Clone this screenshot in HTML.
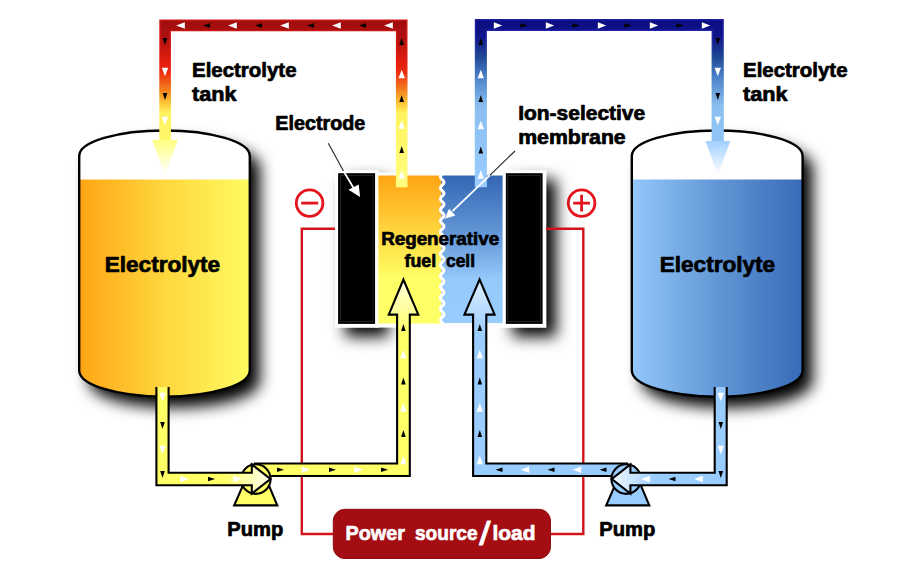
<!DOCTYPE html>
<html lang="en">
<head>
<meta charset="utf-8">
<title>Regenerative fuel cell</title>
<style>
html,body{margin:0;padding:0;background:#fff;}
body{width:900px;height:580px;overflow:hidden;}
svg{display:block;}
text{font-family:"Liberation Sans",sans-serif;font-weight:bold;fill:#000;stroke:#000;stroke-width:0.7px;stroke-linejoin:round;}
</style>
</head>
<body>
<svg width="900" height="580" viewBox="0 0 900 580">
<defs>
  <linearGradient id="gYellowTank" x1="0" y1="0" x2="1" y2="0">
    <stop offset="0" stop-color="#ffa011"/>
    <stop offset="0.5" stop-color="#ffd73e"/>
    <stop offset="1" stop-color="#ffff66"/>
  </linearGradient>
  <linearGradient id="gBlueTank" x1="0" y1="0" x2="1" y2="0">
    <stop offset="0" stop-color="#99ccff"/>
    <stop offset="0.5" stop-color="#6297d6"/>
    <stop offset="1" stop-color="#3366b3"/>
  </linearGradient>
  <linearGradient id="gRedPipe" gradientUnits="userSpaceOnUse" x1="0" y1="20" x2="0" y2="186">
    <stop offset="0" stop-color="#9f0d0d"/>
    <stop offset="0.12" stop-color="#b21110"/>
    <stop offset="0.25" stop-color="#e31d0f"/>
    <stop offset="0.31" stop-color="#ea2a10"/>
    <stop offset="0.42" stop-color="#f57f1c"/>
    <stop offset="0.5" stop-color="#fdc535"/>
    <stop offset="0.56" stop-color="#fff35e"/>
    <stop offset="1" stop-color="#ffff80"/>
  </linearGradient>
  <linearGradient id="gBluePipe" gradientUnits="userSpaceOnUse" x1="0" y1="20" x2="0" y2="186">
    <stop offset="0" stop-color="#0c0c80"/>
    <stop offset="0.1" stop-color="#10148a"/>
    <stop offset="0.22" stop-color="#1f4692"/>
    <stop offset="0.34" stop-color="#4a80c8"/>
    <stop offset="0.52" stop-color="#8bbff0"/>
    <stop offset="1" stop-color="#99ccff"/>
  </linearGradient>
  <linearGradient id="gRedEdge" gradientUnits="userSpaceOnUse" x1="0" y1="20" x2="0" y2="186">
    <stop offset="0" stop-color="#c81414"/>
    <stop offset="0.12" stop-color="#cf1712"/>
    <stop offset="0.25" stop-color="#e31d0f"/>
    <stop offset="0.31" stop-color="#ea2a10"/>
    <stop offset="0.42" stop-color="#f57f1c"/>
    <stop offset="0.5" stop-color="#fdc535"/>
    <stop offset="0.56" stop-color="#fff35e"/>
    <stop offset="1" stop-color="#ffff80"/>
  </linearGradient>
  <linearGradient id="gBlueEdge" gradientUnits="userSpaceOnUse" x1="0" y1="20" x2="0" y2="186">
    <stop offset="0" stop-color="#1d1da2"/>
    <stop offset="0.1" stop-color="#1f25a2"/>
    <stop offset="0.22" stop-color="#234c9c"/>
    <stop offset="0.34" stop-color="#4a80c8"/>
    <stop offset="0.52" stop-color="#8bbff0"/>
    <stop offset="1" stop-color="#99ccff"/>
  </linearGradient>
  <linearGradient id="gYellowHead" gradientUnits="userSpaceOnUse" x1="0" y1="138" x2="0" y2="175">
    <stop offset="0" stop-color="#ffff7a"/>
    <stop offset="1" stop-color="#ffffff"/>
  </linearGradient>
  <linearGradient id="gBlueHead" gradientUnits="userSpaceOnUse" x1="0" y1="138" x2="0" y2="175">
    <stop offset="0" stop-color="#99ccff"/>
    <stop offset="1" stop-color="#ffffff"/>
  </linearGradient>
  <linearGradient id="gCellY" x1="0" y1="0" x2="0" y2="1">
    <stop offset="0" stop-color="#ffa414"/>
    <stop offset="0.45" stop-color="#ffdf47"/>
    <stop offset="0.7" stop-color="#ffff66"/>
    <stop offset="1" stop-color="#ffff66"/>
  </linearGradient>
  <linearGradient id="gCellB" x1="0" y1="0" x2="0" y2="1">
    <stop offset="0" stop-color="#3467b4"/>
    <stop offset="0.45" stop-color="#6a9edb"/>
    <stop offset="0.7" stop-color="#95c8fb"/>
    <stop offset="1" stop-color="#99ccff"/>
  </linearGradient>
  <linearGradient id="gBigY" gradientUnits="userSpaceOnUse" x1="0" y1="280" x2="0" y2="335">
    <stop offset="0" stop-color="#ffffdc"/>
    <stop offset="1" stop-color="#ffff66"/>
  </linearGradient>
  <linearGradient id="gBigB" gradientUnits="userSpaceOnUse" x1="0" y1="280" x2="0" y2="335">
    <stop offset="0" stop-color="#deefff"/>
    <stop offset="1" stop-color="#99ccff"/>
  </linearGradient>
  <linearGradient id="gPumpY" gradientUnits="userSpaceOnUse" x1="225" y1="0" x2="270" y2="0">
    <stop offset="0" stop-color="#ffff66"/>
    <stop offset="1" stop-color="#fffff2"/>
  </linearGradient>
  <linearGradient id="gPumpB" gradientUnits="userSpaceOnUse" x1="657" y1="0" x2="612" y2="0">
    <stop offset="0" stop-color="#99ccff"/>
    <stop offset="1" stop-color="#f2f8ff"/>
  </linearGradient>
  <filter id="sh" x="-20%" y="-20%" width="150%" height="150%">
    <feGaussianBlur in="SourceAlpha" stdDeviation="7.5"/>
    <feOffset dx="9.5" dy="11"/>
    <feMerge><feMergeNode/><feMergeNode in="SourceGraphic"/></feMerge>
  </filter>
  <filter id="sh2" x="-60%" y="-20%" width="250%" height="150%">
    <feGaussianBlur in="SourceAlpha" stdDeviation="7.5"/>
    <feOffset dx="10" dy="8.5"/>
    <feMerge><feMergeNode/><feMergeNode in="SourceGraphic"/></feMerge>
  </filter>
  <clipPath id="clipL"><path d="M79.2,155.9 A85.3,25.4 0 0 1 249.8,155.9 L249.8,370.4 A85.3,26.2 0 0 1 79.2,370.4 Z"/></clipPath>
  <clipPath id="clipR"><path d="M631.8,155.9 A85.4,25.4 0 0 1 802.6,155.9 L802.6,370.4 A85.4,26.2 0 0 1 631.8,370.4 Z"/></clipPath>
</defs>

<rect width="900" height="580" fill="#ffffff"/>

<!-- minus / plus -->
<g fill="none" stroke="#e1151b" stroke-width="2.8">
  <circle cx="309.6" cy="203.1" r="13.3"/>
  <path d="M301.2,203.1 H318.2"/>
  <circle cx="581.6" cy="203.1" r="13.3"/>
  <path d="M573.2,203.1 H590 M581.6,194.7 V211.5"/>
</g>

<!-- tanks -->
<g filter="url(#sh)">
  <path d="M79.2,155.9 A85.3,25.4 0 0 1 249.8,155.9 L249.8,370.4 A85.3,26.2 0 0 1 79.2,370.4 Z" fill="#ffffff"/>
  <path d="M631.8,155.9 A85.4,25.4 0 0 1 802.6,155.9 L802.6,370.4 A85.4,26.2 0 0 1 631.8,370.4 Z" fill="#ffffff"/>
</g>
<rect x="70" y="179.5" width="190" height="225" fill="url(#gYellowTank)" clip-path="url(#clipL)"/>
<rect x="622" y="179.5" width="190" height="225" fill="url(#gBlueTank)" clip-path="url(#clipR)"/>
<path d="M79.2,155.9 A85.3,25.4 0 0 1 249.8,155.9 L249.8,370.4 A85.3,26.2 0 0 1 79.2,370.4 Z" fill="none" stroke="#000" stroke-width="2.4"/>
<path d="M631.8,155.9 A85.4,25.4 0 0 1 802.6,155.9 L802.6,370.4 A85.4,26.2 0 0 1 631.8,370.4 Z" fill="none" stroke="#000" stroke-width="2.4"/>

<!-- electrodes -->
<g filter="url(#sh2)">
  <rect x="335.3" y="170.4" width="43.2" height="157.2" fill="#ffffff"/>
  <rect x="502.5" y="170.4" width="43.6" height="157.2" fill="#ffffff"/>
</g>
<rect x="338.1" y="173.2" width="37.1" height="150.7" fill="#000"/>
<rect x="340.4" y="175.5" width="32.5" height="146.1" fill="none" stroke="#262626" stroke-width="0.9"/>
<rect x="505.3" y="173.2" width="37.3" height="150.7" fill="#000"/>
<rect x="507.6" y="175.5" width="32.7" height="146.1" fill="none" stroke="#262626" stroke-width="0.9"/>

<!-- red wires -->
<g fill="none" stroke="#d2141a" stroke-width="2.4" stroke-linejoin="miter">
  <path d="M335,228.8 L301.8,228.8 L301.8,534 L334,534"/>
  <path d="M546,228.8 L583.3,228.8 L583.3,534 L549,534"/>
</g>

<!-- cell -->
<rect x="375.3" y="172.5" width="130.5" height="155.1" fill="#ffffff"/>
<rect x="378.4" y="175.5" width="62.8" height="148" fill="url(#gCellY)"/>
<rect x="441.2" y="175.5" width="61.4" height="147.6" fill="url(#gCellB)"/>
<path d="M441.84,174.5 L441.02,175.4 L440.50,176.3 L440.43,177.2 L440.81,178.1 L441.55,179.0 L442.46,179.9 L443.30,180.8 L443.86,181.7 L443.99,182.6 L443.66,183.5 L442.95,184.4 L442.05,185.3 L441.18,186.2 L440.58,187.1 L440.40,188.0 L440.69,188.9 L441.36,189.8 L442.25,190.7 L443.13,191.6 L443.77,192.5 L444.00,193.4 L443.77,194.3 L443.13,195.2 L442.25,196.1 L441.36,197.0 L440.69,197.9 L440.40,198.8 L440.58,199.7 L441.18,200.6 L442.05,201.5 L442.95,202.4 L443.66,203.3 L443.99,204.2 L443.86,205.1 L443.30,206.0 L442.46,206.9 L441.55,207.8 L440.81,208.7 L440.43,209.6 L440.50,210.5 L441.02,211.4 L441.84,212.3 L442.76,213.2 L443.53,214.1 L443.95,215.0 L443.93,215.9 L443.45,216.8 L442.66,217.7 L441.74,218.6 L440.95,219.5 L440.47,220.4 L440.45,221.3 L440.87,222.2 L441.64,223.1 L442.56,224.0 L443.38,224.9 L443.90,225.8 L443.97,226.7 L443.59,227.6 L442.85,228.5 L441.94,229.4 L441.10,230.3 L440.54,231.2 L440.41,232.1 L440.74,233.0 L441.45,233.9 L442.35,234.8 L443.22,235.7 L443.82,236.6 L444.00,237.5 L443.71,238.4 L443.04,239.3 L442.15,240.2 L441.27,241.1 L440.63,242.0 L440.40,242.9 L440.63,243.8 L441.27,244.7 L442.15,245.6 L443.04,246.5 L443.71,247.4 L444.00,248.3 L443.82,249.2 L443.22,250.1 L442.35,251.0 L441.45,251.9 L440.74,252.8 L440.41,253.7 L440.54,254.6 L441.10,255.5 L441.94,256.4 L442.85,257.3 L443.59,258.2 L443.97,259.1 L443.90,260.0 L443.38,260.9 L442.56,261.8 L441.64,262.7 L440.87,263.6 L440.45,264.5 L440.47,265.4 L440.95,266.3 L441.74,267.2 L442.66,268.1 L443.45,269.0 L443.93,269.9 L443.95,270.8 L443.53,271.7 L442.76,272.6 L441.84,273.5 L441.02,274.4 L440.50,275.3 L440.43,276.2 L440.81,277.1 L441.55,278.0 L442.46,278.9 L443.30,279.8 L443.86,280.7 L443.99,281.6 L443.66,282.5 L442.95,283.4 L442.05,284.3 L441.18,285.2 L440.58,286.1 L440.40,287.0 L440.69,287.9 L441.36,288.8 L442.25,289.7 L443.13,290.6 L443.77,291.5 L444.00,292.4 L443.77,293.3 L443.13,294.2 L442.25,295.1 L441.36,296.0 L440.69,296.9 L440.40,297.8 L440.58,298.7 L441.18,299.6 L442.05,300.5 L442.95,301.4 L443.66,302.3 L443.99,303.2 L443.86,304.1 L443.30,305.0 L442.46,305.9 L441.55,306.8 L440.81,307.7 L440.43,308.6 L440.50,309.5 L441.02,310.4 L441.84,311.3 L442.76,312.2 L443.53,313.1 L443.95,314.0 L443.93,314.9 L443.45,315.8 L442.66,316.7 L441.74,317.6 L440.95,318.5 L440.47,319.4 L440.45,320.3 L440.87,321.2 L441.64,322.1 L442.56,323.0 L443.38,323.9" fill="none" stroke="#ffffff" stroke-width="3" stroke-linejoin="round"/>

<!-- top red pipe -->
<path d="M160,140.7 L160,20.2 L406.8,20.2 L406.8,186.5 L396.6,186.5 L396.6,30.6 L170.2,30.6 L170.2,140.7 Z" fill="url(#gRedPipe)" stroke="url(#gRedEdge)" stroke-width="1.4"/>
<path d="M152.2,140 L177.8,140 L165,175 Z" fill="url(#gYellowHead)"/>
<!-- top blue pipe -->
<path d="M475.5,186.5 L475.5,19.8 L723.1,19.8 L723.1,141.7 L712.3,141.7 L712.3,30.2 L486.2,30.2 L486.2,186.5 Z" fill="url(#gBluePipe)" stroke="url(#gBlueEdge)" stroke-width="1.4"/>
<path d="M705.5,141 L730.3,141 L717.9,175 Z" fill="url(#gBlueHead)"/>

<!-- bottom yellow pipes -->
<g stroke="#000" stroke-width="2.1" stroke-linejoin="miter">
  <path d="M254,463.5 L397.1,463.5 L397.1,314.6 L388.8,314.6 L403.4,279.5 L418.3,314.6 L409.8,314.6 L409.8,476 L262,476" fill="url(#gBigY)"/>
  <path d="M243.5,484 L268.3,484 L277.3,505.4 L234.2,505.4 Z" fill="#ffff66"/>
  <circle cx="255.8" cy="479.1" r="14.8" fill="#ffff66"/>
  <path d="M156.4,387 L156.4,485.2 L251.8,485.2 L251.8,493.6 L270.4,479 L251.8,464.4 L251.8,472.7 L168.6,472.7 L168.6,387" fill="url(#gPumpY)"/>
</g>
<!-- bottom blue pipes -->
<g stroke="#000" stroke-width="2.1" stroke-linejoin="miter">
  <path d="M628,463.5 L486.3,463.5 L486.3,314.6 L494.6,314.6 L479.6,279.5 L464.4,314.6 L473.1,314.6 L473.1,476 L620,476" fill="url(#gBigB)"/>
  <path d="M615.5,484 L640.3,484 L649.3,505.4 L606.2,505.4 Z" fill="#99ccff"/>
  <circle cx="626.2" cy="479.1" r="14.8" fill="#99ccff"/>
  <path d="M726.7,387 L726.7,485.2 L630.4,485.2 L630.4,493.6 L611.8,479 L630.4,464.4 L630.4,472.7 L714.7,472.7 L714.7,387" fill="url(#gPumpB)"/>
</g>

<polygon points="184.8,22.3 184.8,28.7 176.2,25.5" fill="#ffffff"/>
<polygon points="210.0,23.2 210.0,27.8 203.0,25.5" fill="#000000"/>
<polygon points="236.8,22.3 236.8,28.7 228.2,25.5" fill="#ffffff"/>
<polygon points="262.0,23.2 262.0,27.8 255.0,25.5" fill="#000000"/>
<polygon points="288.8,22.3 288.8,28.7 280.2,25.5" fill="#ffffff"/>
<polygon points="314.0,23.2 314.0,27.8 307.0,25.5" fill="#000000"/>
<polygon points="340.8,22.3 340.8,28.7 332.2,25.5" fill="#ffffff"/>
<polygon points="366.0,23.2 366.0,27.8 359.0,25.5" fill="#000000"/>
<polygon points="392.8,22.3 392.8,28.7 384.2,25.5" fill="#ffffff"/>
<polygon points="162.7,38.0 167.3,38.0 165.0,45.0" fill="#000000"/>
<polygon points="161.8,67.8 168.2,67.8 165.0,76.2" fill="#ffffff"/>
<polygon points="162.7,93.0 167.3,93.0 165.0,100.0" fill="#000000"/>
<polygon points="161.8,116.8 168.2,116.8 165.0,125.2" fill="#ffffff"/>
<polygon points="399.4,45.0 404.0,45.0 401.7,38.0" fill="#000000"/>
<polygon points="398.5,78.2 404.9,78.2 401.7,69.8" fill="#ffffff"/>
<polygon points="399.4,102.0 404.0,102.0 401.7,95.0" fill="#000000"/>
<polygon points="398.5,128.8 404.9,128.8 401.7,120.2" fill="#ffffff"/>
<polygon points="399.4,153.0 404.0,153.0 401.7,146.0" fill="#000000"/>
<polygon points="398.5,178.8 404.9,178.8 401.7,170.2" fill="#ffffff"/>
<polygon points="493.8,22.3 493.8,28.7 502.2,25.5" fill="#ffffff"/>
<polygon points="520.5,23.2 520.5,27.8 527.5,25.5" fill="#000000"/>
<polygon points="545.8,22.3 545.8,28.7 554.2,25.5" fill="#ffffff"/>
<polygon points="572.5,23.2 572.5,27.8 579.5,25.5" fill="#000000"/>
<polygon points="597.8,22.3 597.8,28.7 606.2,25.5" fill="#ffffff"/>
<polygon points="624.5,23.2 624.5,27.8 631.5,25.5" fill="#000000"/>
<polygon points="649.8,22.3 649.8,28.7 658.2,25.5" fill="#ffffff"/>
<polygon points="676.5,23.2 676.5,27.8 683.5,25.5" fill="#000000"/>
<polygon points="701.8,22.3 701.8,28.7 710.2,25.5" fill="#ffffff"/>
<polygon points="478.5,45.0 483.1,45.0 480.8,38.0" fill="#000000"/>
<polygon points="477.6,78.2 484.0,78.2 480.8,69.8" fill="#ffffff"/>
<polygon points="478.5,102.0 483.1,102.0 480.8,95.0" fill="#000000"/>
<polygon points="477.6,129.2 484.0,129.2 480.8,120.8" fill="#ffffff"/>
<polygon points="478.5,153.5 483.1,153.5 480.8,146.5" fill="#000000"/>
<polygon points="477.6,178.8 484.0,178.8 480.8,170.2" fill="#ffffff"/>
<polygon points="715.5,38.0 720.1,38.0 717.8,45.0" fill="#000000"/>
<polygon points="714.6,67.8 721.0,67.8 717.8,76.2" fill="#ffffff"/>
<polygon points="715.5,93.0 720.1,93.0 717.8,100.0" fill="#000000"/>
<polygon points="714.6,116.8 721.0,116.8 717.8,125.2" fill="#ffffff"/>
<polygon points="159.3,392.8 165.7,392.8 162.5,401.2" fill="#ffffff"/>
<polygon points="160.2,422.0 164.8,422.0 162.5,429.0" fill="#000000"/>
<polygon points="159.3,445.8 165.7,445.8 162.5,454.2" fill="#ffffff"/>
<polygon points="160.2,471.0 164.8,471.0 162.5,478.0" fill="#000000"/>
<polygon points="180.2,475.8 180.2,482.2 188.8,479.0" fill="#ffffff"/>
<polygon points="208.0,476.7 208.0,481.3 215.0,479.0" fill="#000000"/>
<polygon points="233.2,475.8 233.2,482.2 241.8,479.0" fill="#ffffff"/>
<polygon points="277.0,467.5 277.0,472.1 284.0,469.8" fill="#000000"/>
<polygon points="301.8,466.6 301.8,473.0 310.2,469.8" fill="#ffffff"/>
<polygon points="329.0,467.5 329.0,472.1 336.0,469.8" fill="#000000"/>
<polygon points="354.2,466.6 354.2,473.0 362.8,469.8" fill="#ffffff"/>
<polygon points="381.0,467.5 381.0,472.1 388.0,469.8" fill="#000000"/>
<polygon points="400.2,464.2 406.6,464.2 403.4,455.8" fill="#ffffff"/>
<polygon points="401.1,437.0 405.7,437.0 403.4,430.0" fill="#000000"/>
<polygon points="400.2,411.8 406.6,411.8 403.4,403.2" fill="#ffffff"/>
<polygon points="401.1,384.5 405.7,384.5 403.4,377.5" fill="#000000"/>
<polygon points="400.2,358.2 406.6,358.2 403.4,349.8" fill="#ffffff"/>
<polygon points="401.1,331.0 405.7,331.0 403.4,324.0" fill="#000000"/>
<polygon points="717.6,392.8 724.0,392.8 720.8,401.2" fill="#ffffff"/>
<polygon points="718.5,422.0 723.1,422.0 720.8,429.0" fill="#000000"/>
<polygon points="717.6,445.8 724.0,445.8 720.8,454.2" fill="#ffffff"/>
<polygon points="718.5,471.0 723.1,471.0 720.8,478.0" fill="#000000"/>
<polygon points="702.8,475.8 702.8,482.2 694.2,479.0" fill="#ffffff"/>
<polygon points="675.5,476.7 675.5,481.3 668.5,479.0" fill="#000000"/>
<polygon points="649.8,475.8 649.8,482.2 641.2,479.0" fill="#ffffff"/>
<polygon points="606.5,467.5 606.5,472.1 599.5,469.8" fill="#000000"/>
<polygon points="581.2,466.6 581.2,473.0 572.8,469.8" fill="#ffffff"/>
<polygon points="554.5,467.5 554.5,472.1 547.5,469.8" fill="#000000"/>
<polygon points="529.2,466.6 529.2,473.0 520.8,469.8" fill="#ffffff"/>
<polygon points="502.5,467.5 502.5,472.1 495.5,469.8" fill="#000000"/>
<polygon points="476.6,464.2 483.0,464.2 479.8,455.8" fill="#ffffff"/>
<polygon points="477.5,437.0 482.1,437.0 479.8,430.0" fill="#000000"/>
<polygon points="476.6,411.8 483.0,411.8 479.8,403.2" fill="#ffffff"/>
<polygon points="477.5,384.5 482.1,384.5 479.8,377.5" fill="#000000"/>
<polygon points="476.6,358.2 483.0,358.2 479.8,349.8" fill="#ffffff"/>
<polygon points="477.5,331.0 482.1,331.0 479.8,324.0" fill="#000000"/>

<!-- power box -->
<rect x="333.3" y="509.3" width="217.2" height="49.2" rx="11.5" ry="11.5" fill="#a40d12" stroke="#8f0b0f" stroke-width="1"/>
<g font-size="20.5" style="fill:#fff;stroke:#fff">
<text x="345.5" y="539.7" style="fill:#fff;stroke:#fff" textLength="59.5" lengthAdjust="spacingAndGlyphs">Power</text>
<text x="415" y="539.7" style="fill:#fff;stroke:#fff" textLength="62.5" lengthAdjust="spacingAndGlyphs">source</text>
<text x="479.3" y="544.6" font-size="34" style="fill:#fff;stroke:#fff;stroke-width:0.9px;font-weight:normal" textLength="11.3" lengthAdjust="spacingAndGlyphs">/</text>
<text x="492.5" y="539.7" style="fill:#fff;stroke:#fff" textLength="43" lengthAdjust="spacingAndGlyphs">load</text>
</g>

<!-- label pointers -->
<path d="M328.3,143.2 L343.6,171.2" stroke="#222" stroke-width="1.1" fill="none"/>
<path d="M343.6,171.2 L354.5,189.5" stroke="#fff" stroke-width="1.7" fill="none"/>
<path d="M360.1,196.9 L348.5,189.7 L358.7,184.6 Z" fill="#fff"/>
<path d="M515,151 L489.8,175.3" stroke="#222" stroke-width="1.1" fill="none"/>
<path d="M489.8,175.3 L452.5,211.2" stroke="#fff" stroke-width="1.8" fill="none"/>
<path d="M444.8,218.8 L449,208.8 L455.4,215.6 Z" fill="#fff"/>

<!-- labels -->
<text x="192" y="76.5" font-size="19.4" textLength="104.5" lengthAdjust="spacingAndGlyphs">Electrolyte</text>
<text x="192" y="100.5" font-size="19.4" textLength="44.5" lengthAdjust="spacingAndGlyphs">tank</text>
<text x="743" y="76.5" font-size="19.4" textLength="104.5" lengthAdjust="spacingAndGlyphs">Electrolyte</text>
<text x="743" y="100.5" font-size="19.4" textLength="44.5" lengthAdjust="spacingAndGlyphs">tank</text>
<text x="275.3" y="129.6" font-size="19.4" textLength="90" lengthAdjust="spacingAndGlyphs">Electrode</text>
<text x="518.2" y="120.3" font-size="19.4" textLength="127" lengthAdjust="spacingAndGlyphs">Ion-selective</text>
<text x="518.2" y="143.8" font-size="19.4" textLength="107.5" lengthAdjust="spacingAndGlyphs">membrane</text>
<text x="381.2" y="244.8" font-size="18" textLength="118" lengthAdjust="spacingAndGlyphs">Regenerative</text>
<text x="404.5" y="266.6" font-size="18" textLength="31.6" lengthAdjust="spacingAndGlyphs">fuel</text>
<text x="446" y="266.6" font-size="18" textLength="29" lengthAdjust="spacingAndGlyphs">cell</text>
<text x="104.7" y="271.8" font-size="21.5" textLength="115.5" lengthAdjust="spacingAndGlyphs">Electrolyte</text>
<text x="659.7" y="271.8" font-size="21.5" textLength="115.5" lengthAdjust="spacingAndGlyphs">Electrolyte</text>
<text x="227.3" y="535.6" font-size="19.4" textLength="56" lengthAdjust="spacingAndGlyphs">Pump</text>
<text x="599.3" y="535.6" font-size="19.4" textLength="56" lengthAdjust="spacingAndGlyphs">Pump</text>
</svg>
</body>
</html>
